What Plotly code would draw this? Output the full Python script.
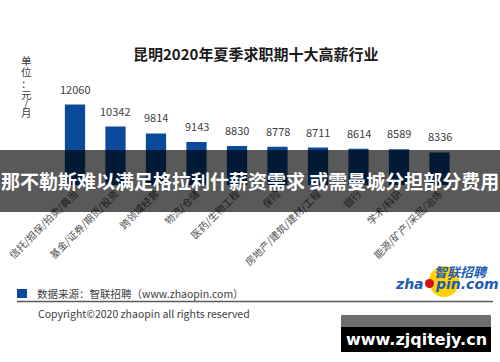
import plotly.graph_objects as go

categories = ["信托/担保/拍卖/典当", "基金/证券/期货/投资", "跨领域经营", "物流/仓储",
              "医药/生物工程", "保险", "房地产/建筑/建材/工程", "银行", "学术/科研",
              "能源/矿产/采掘/冶炼"]
values = [12060, 10342, 9814, 9143, 8830, 8778, 8711, 8614, 8589, 8336]
title_text = "昆明2020年夏季求职期十大高薪行业"
unit_chars = ["单", "位", "：", "元", "/", "月"]
banner_text = "那不勒斯难以满足格拉利什薪资需求 或需曼城分担部分费用"
source_text = "数据来源：智联招聘（www.zhaopin.com）"
copyright_text = "Copyright©2020 zhaopin all rights reserved"
site_text = "www.zjqitejy.cn"

W, H = 500, 362
def X(px): return px / W
def Y(py): return 1 - py / H

CJK = "Noto Sans CJK SC, Noto Sans, sans-serif"
BAR = "#0b4a9b"

fig = go.Figure()
fig.add_trace(go.Bar(x=categories, y=values, marker=dict(color=BAR, line=dict(width=0)),
                     hoverinfo="skip"))

ann = []
def pa(px, py, text, size, color, family=CJK, xanchor="center"):
    ann.append(dict(x=X(px), y=Y(py), xref="paper", yref="paper", text=text, showarrow=False,
                    xanchor=xanchor, yanchor="middle", font=dict(family=family, size=size, color=color)))

for c, v in zip(categories, values):
    ann.append(dict(x=c, y=v, xref="x", yref="y", text=str(v), showarrow=False,
                    xanchor="center", yanchor="bottom", yshift=6,
                    font=dict(family=CJK, size=11, color="#404040")))

pa(255, 53, "<b>" + title_text + "</b>", 15, "#1a1a1a")

unit_y = [60, 72, 83, 94, 103, 112]
for ch, py in zip(unit_chars, unit_y):
    pa(26, py, ch, 10.5, "#404040")

pa(250, 180, "<b>" + banner_text + "</b>", 19, "white")

pa(35, 293, source_text, 10.5, "#404040", xanchor="left")
pa(36, 313, copyright_text, 10.5, "#404040", xanchor="left")

# logo text
pa(461, 271, "<b><i>智联招聘</i></b>", 13, "#1d5bb5")
pa(426, 284, "<b><i>zha</i></b>", 14, "#1d5bb5", family="DejaVu Sans", xanchor="right")
pa(433, 284, "<b><i>pin.com</i></b>", 14, "#1d5bb5", family="DejaVu Sans", xanchor="left")

pa(416, 339, "<b>" + site_text + "</b>", 16, "white", family="DejaVu Sans, sans-serif")

shapes = [
    dict(type="rect", xref="paper", yref="paper", x0=X(0), x1=X(500), y0=Y(212), y1=Y(150),
         fillcolor="rgba(0,0,0,0.65)", line=dict(width=0), layer="above"),
    dict(type="rect", xref="paper", yref="paper", x0=X(17), x1=X(27), y0=Y(298), y1=Y(289),
         fillcolor=BAR, line=dict(width=0), layer="above"),
    dict(type="line", xref="paper", yref="paper", x0=X(17), x1=X(493), y0=Y(301.5), y1=Y(301.5),
         line=dict(color="#5a5a5a", width=1.5), layer="above"),
    dict(type="circle", xref="paper", yref="paper", x0=X(429), x1=X(459), y0=Y(297), y1=Y(266),
         fillcolor="#ffd200", line=dict(width=0), layer="above"),
    dict(type="circle", xref="paper", yref="paper", x0=X(425), x1=X(434), y0=Y(288), y1=Y(279),
         fillcolor="#d0101a", line=dict(width=0), layer="above"),
    dict(type="rect", xref="paper", yref="paper", x0=X(341), x1=X(491), y0=Y(327), y1=Y(315),
         fillcolor="#6e6e6e", line=dict(width=0), layer="above"),
    dict(type="rect", xref="paper", yref="paper", x0=X(341), x1=X(491), y0=Y(352), y1=Y(327),
         fillcolor="#000000", line=dict(width=0), layer="above"),
]

fig.update_layout(
    width=W, height=H, margin=dict(l=0, r=0, t=0, b=0, pad=0, autoexpand=False),
    paper_bgcolor="white", plot_bgcolor="white", showlegend=False,
    bargap=0.5,
    xaxis=dict(domain=[X(54.75), X(459.75)], tickangle=-45, showline=False, showgrid=False,
               ticks="", automargin=False, tickfont=dict(family=CJK, size=10, color="#505050")),
    yaxis=dict(domain=[Y(185), Y(60.3)], range=[5800, 15500], visible=False, automargin=False),
    annotations=ann, shapes=shapes,
)

fig.write_html("out.html", config={"displayModeBar": False},
               post_script="document.body.style.margin='0';document.body.style.overflow='hidden';")
